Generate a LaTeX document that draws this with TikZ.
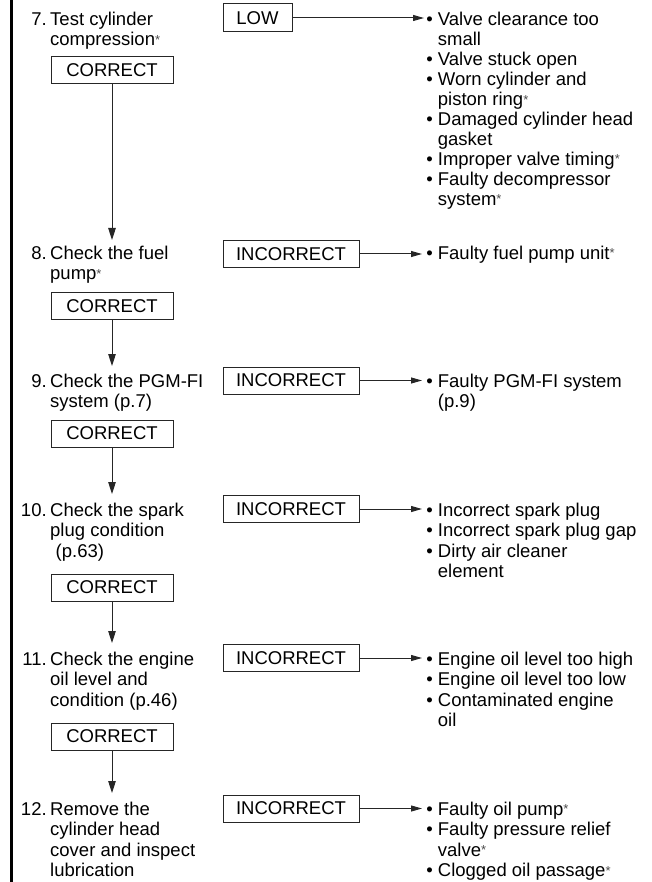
\documentclass[tikz,border=0pt]{standalone}
\usepackage{fontspec}
\setmainfont{Liberation Sans}
\usetikzlibrary{arrows.meta}
\newcommand\myast{\raisebox{1.5pt}{\textcolor{black!70}{\fontsize{13}{13}\selectfont *}}}
\newcommand\bul{\llap{\textbullet\hspace{5.1pt}}}
\newcommand\num[1]{\llap{#1\hspace{3.5pt}}}
\begin{document}
\begin{tikzpicture}[x=1pt,y=-1pt,
  txt/.style={inner sep=0pt, anchor=base west, font=\fontsize{18.5}{20.5}\selectfont},
  txtn/.style={txt, font=\fontsize{18.5}{19.9}\selectfont},
  box/.style={draw=black!85, line width=1pt, inner sep=0pt, minimum height=27pt, font=\fontsize{18.5}{20.5}\selectfont},
  cbox/.style={box, minimum width=122pt},
  ibox/.style={box, minimum width=136pt},
  varr/.style={draw=black!85, -{Triangle[length=12pt,width=7.5pt]}, line width=1pt},
  harr/.style={draw=black!85, -{Triangle[length=11pt,width=6pt]}, line width=1pt}]
\useasboundingbox (0,0) rectangle (652,882);
% left bar
\draw[line width=2.7pt] (11.3,0) -- (11.3,882);

% ---------- step 7
\node[txtn] (s7) at (50,26) {\begin{tabular}[t]{@{}l@{}}\num{7.}Test cylinder\\compression\myast\end{tabular}};
\node[box, minimum width=69pt, minimum height=28pt] (low) at (257.5,18) {LOW};
\node[cbox] (c7) at (112,70) {CORRECT};
\node[txtn] (r7) at (437.7,26) {\begin{tabular}[t]{@{}l@{}}\bul Valve clearance too\\small\\\bul Valve stuck open\\\bul Worn cylinder and\\piston ring\myast\\\bul Damaged cylinder head\\gasket\\\bul Improper valve timing\myast\\\bul Faulty decompressor\\system\myast\end{tabular}};
\coordinate (e7) at (424,18);
\draw[harr] (low.east) -- (e7);
\coordinate (t8) at (112,240);
\draw[varr] (c7.south) -- (t8);

% ---------- step 8
\node[txt] (s8) at (50,259) {\begin{tabular}[t]{@{}l@{}}\num{8.}Check the fuel\\pump\myast\end{tabular}};
\node[ibox] (i8) at (291,254) {INCORRECT};
\node[cbox] (c8) at (112,306) {CORRECT};
\node[txt] (r8) at (437.7,259) {\begin{tabular}[t]{@{}l@{}}\bul Faulty fuel pump unit\myast\end{tabular}};
\coordinate (e8) at (422,254);
\draw[harr] (i8.east) -- (e8);
\coordinate (t9) at (112,366);
\draw[varr] (c8.south) -- (t9);

% ---------- step 9
\node[txt] (s9) at (50,387) {\begin{tabular}[t]{@{}l@{}}\num{9.}Check the PGM-FI\\system (p.7)\end{tabular}};
\node[ibox] (i9) at (291,380.5) {INCORRECT};
\node[cbox] (c9) at (112,433.5) {CORRECT};
\node[txt] (r9) at (437.7,387) {\begin{tabular}[t]{@{}l@{}}\bul Faulty PGM-FI system\\(p.9)\end{tabular}};
\coordinate (e9) at (422,380.5);
\draw[harr] (i9.east) -- (e9);
\coordinate (t10) at (112,494);
\draw[varr] (c9.south) -- (t10);

% ---------- step 10
\node[txt] (s10) at (50,516) {\begin{tabular}[t]{@{}l@{}}\num{10.}Check the spark\\plug condition\\\hspace{5.5pt}(p.63)\end{tabular}};
\node[ibox] (i10) at (291,509) {INCORRECT};
\node[cbox] (c10) at (112,587.5) {CORRECT};
\node[txt] (r10) at (437.7,516) {\begin{tabular}[t]{@{}l@{}}\bul Incorrect spark plug\\\bul Incorrect spark plug gap\\\bul Dirty air cleaner\\element\end{tabular}};
\coordinate (e10) at (422,509);
\draw[harr] (i10.east) -- (e10);
\coordinate (t11) at (112,643);
\draw[varr] (c10.south) -- (t11);

% ---------- step 11
\node[txt] (s11) at (50,665) {\begin{tabular}[t]{@{}l@{}}\num{11.}Check the engine\\oil level and\\condition (p.46)\end{tabular}};
\node[ibox] (i11) at (291,658) {INCORRECT};
\node[cbox] (c11) at (112,736.5) {CORRECT};
\node[txt] (r11) at (437.7,665) {\begin{tabular}[t]{@{}l@{}}\bul Engine oil level too high\\\bul Engine oil level too low\\\bul Contaminated engine\\oil\end{tabular}};
\coordinate (e11) at (422,658);
\draw[harr] (i11.east) -- (e11);
\coordinate (t12) at (112,793);
\draw[varr] (c11.south) -- (t12);

% ---------- step 12
\node[txt] (s12) at (50,815) {\begin{tabular}[t]{@{}l@{}}\num{12.}Remove the\\cylinder head\\cover and inspect\\lubrication\end{tabular}};
\node[ibox] (i12) at (291,808.5) {INCORRECT};
\node[txt] (r12) at (437.7,815) {\begin{tabular}[t]{@{}l@{}}\bul Faulty oil pump\myast\\\bul Faulty pressure relief\\valve\myast\\\bul Clogged oil passage\myast\end{tabular}};
\coordinate (e12) at (422,808.5);
\draw[harr] (i12.east) -- (e12);
\end{tikzpicture}
\end{document}
